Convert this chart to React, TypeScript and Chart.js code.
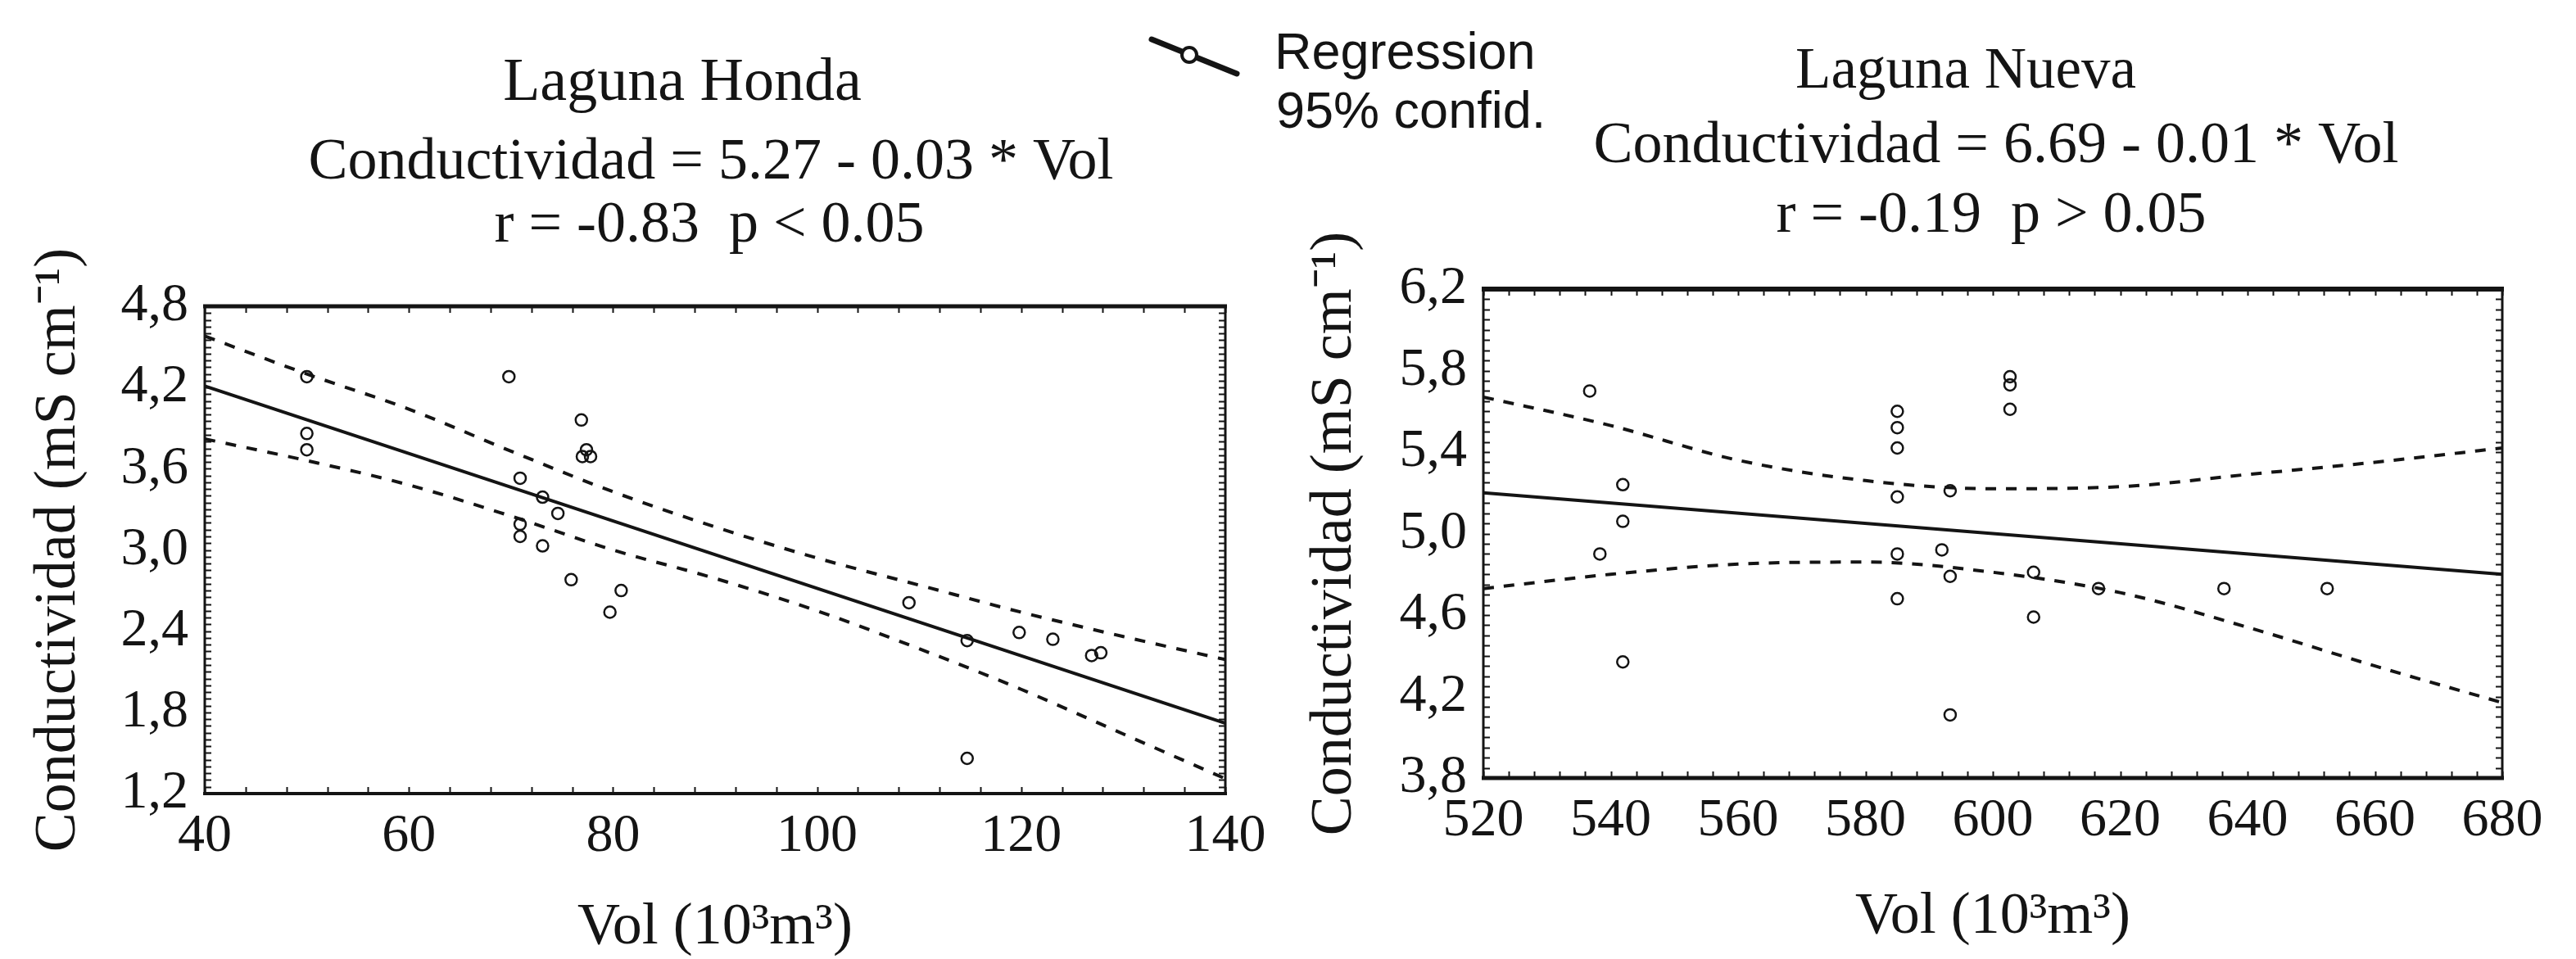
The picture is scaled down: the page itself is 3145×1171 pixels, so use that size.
import { useEffect, useRef } from "react";
import { Chart, registerables } from "chart.js";

Chart.register(...registerables);

const PAGE_W = 3145;
const PAGE_H = 1171;
const INK = "#141414";
const SERIF = '"Liberation Serif", "Times New Roman", serif';
const SANS = '"Liberation Sans", Arial, sans-serif';

// ---- Laguna Honda: conductivity vs. volume ----
const hondaVol = [50.0, 50.0, 50.0, 69.8, 76.9, 77.0, 77.8, 77.4, 70.9, 73.1, 74.6, 70.9, 70.9, 73.1, 75.9, 80.8, 79.7, 109.0, 114.7, 119.8, 123.1, 126.9, 127.8, 114.7];
const hondaCond = [4.28, 3.86, 3.74, 4.28, 3.96, 3.69, 3.69, 3.74, 3.53, 3.39, 3.27, 3.19, 3.10, 3.03, 2.78, 2.70, 2.54, 2.61, 2.33, 2.39, 2.34, 2.22, 2.24, 1.46];
const hondaFitVol = [40, 140];
const hondaFitCond = [4.21, 1.72];
const hondaBandVol = [40, 50, 60, 70, 80, 90, 100, 110, 120, 130, 140];
const hondaUpper = [4.58, 4.30, 4.04, 3.73, 3.43, 3.17, 2.94, 2.74, 2.54, 2.36, 2.19];
const hondaLower = [3.82, 3.66, 3.48, 3.25, 3.00, 2.79, 2.55, 2.27, 1.97, 1.64, 1.31];
const hondaXTicks = [40, 60, 80, 100, 120, 140];
const hondaYTicks = [1.2, 1.8, 2.4, 3.0, 3.6, 4.2, 4.8];

// ---- Laguna Nueva: conductivity vs. volume ----
const nuevaVol = [536.7, 541.9, 541.9, 538.3, 541.9, 585.0, 585.0, 585.0, 585.0, 585.0, 585.0, 592.0, 593.3, 593.3, 593.3, 602.7, 602.7, 602.7, 606.4, 606.4, 616.6, 636.3, 652.5];
const nuevaCond = [5.70, 5.24, 5.06, 4.90, 4.37, 5.60, 5.52, 5.42, 5.18, 4.90, 4.68, 4.92, 5.21, 4.79, 4.11, 5.77, 5.73, 5.61, 4.81, 4.59, 4.73, 4.73, 4.73];
const nuevaFitVol = [520, 680];
const nuevaFitCond = [5.20, 4.80];
const nuevaBandVol = [520, 540, 560, 580, 600, 620, 640, 660, 680];
const nuevaUpper = [5.67, 5.53, 5.36, 5.26, 5.22, 5.23, 5.29, 5.35, 5.42];
const nuevaLower = [4.73, 4.80, 4.85, 4.86, 4.81, 4.71, 4.54, 4.35, 4.17];
const nuevaXTicks = [520, 540, 560, 580, 600, 620, 640, 660, 680];
const nuevaYTicks = [3.8, 4.2, 4.6, 5.0, 5.4, 5.8, 6.2];

// ---- Text ----
const hondaTitle = "Laguna Honda";
const hondaEquation = "Conductividad = 5.27 - 0.03 * Vol";
const hondaStats = "r = -0.83  p < 0.05";
const nuevaTitle = "Laguna Nueva";
const nuevaEquation = "Conductividad = 6.69 - 0.01 * Vol";
const nuevaStats = "r = -0.19  p > 0.05";
const yAxisTitle = "Conductividad (mS cm\u207B\u00B9)";
const xAxisTitle = "Vol (10\u00B3m\u00B3)";
const legendFit = "Regression";
const legendBand = "95% confid.";

type TextItem = { text: string; x: number; y: number; font: string; align?: CanvasTextAlign };

type PanelSpec = {
  vol: number[];
  cond: number[];
  fitVol: number[];
  fitCond: number[];
  bandVol: number[];
  upper: number[];
  lower: number[];
  xTicks: number[];
  yTicks: number[];
  area: { left: number; top: number; right: number; bottom: number };
  yAxisLeft: number;
  yTitlePad: number;
  xTitlePad: number;
  xMinor: number;
  yMinor: number;
  frame: { top: number; bottom: number; left: number; right: number };
  dash: number[];
  texts: TextItem[];
  legend: boolean;
};

const toPoints = (xs: number[], ys: number[]) => xs.map((x, i) => ({ x, y: ys[i] }));
const commaLabel = (v: number) => v.toFixed(1).replace(".", ",");

// Inward minor ticks on all four sides plus the plot frame
function framePlugin(spec: PanelSpec) {
  return {
    id: "frameTicks",
    afterDatasetsDraw(chart: any) {
      const { ctx, chartArea: a, scales } = chart;
      const xs = scales.x;
      const ys = scales.y;
      const len = 8;
      ctx.save();
      ctx.strokeStyle = INK;
      ctx.lineWidth = 2;
      ctx.beginPath();
      const nx = Math.round((xs.max - xs.min) / spec.xMinor);
      for (let i = 0; i <= nx; i++) {
        const px = Math.round(xs.getPixelForValue(xs.min + i * spec.xMinor)) + 0.5;
        ctx.moveTo(px, a.bottom);
        ctx.lineTo(px, a.bottom - len);
        ctx.moveTo(px, a.top);
        ctx.lineTo(px, a.top + len);
      }
      const ny = Math.round((ys.max - ys.min) / spec.yMinor);
      for (let i = 0; i <= ny; i++) {
        const py = Math.round(ys.getPixelForValue(ys.min + i * spec.yMinor)) + 0.5;
        ctx.moveTo(a.left, py);
        ctx.lineTo(a.left + len, py);
        ctx.moveTo(a.right, py);
        ctx.lineTo(a.right - len, py);
      }
      ctx.stroke();

      const f = spec.frame;
      const side = (w: number, x1: number, y1: number, x2: number, y2: number) => {
        ctx.lineWidth = w;
        ctx.beginPath();
        ctx.moveTo(x1, y1);
        ctx.lineTo(x2, y2);
        ctx.stroke();
      };
      side(f.top, a.left - 2, a.top, a.right + 2, a.top);
      side(f.bottom, a.left - 2, a.bottom, a.right + 2, a.bottom);
      side(f.left, a.left, a.top, a.left, a.bottom);
      side(f.right, a.right, a.top, a.right, a.bottom);
      ctx.restore();
    },
  };
}

// Headings, equation lines and the shared legend
function textPlugin(spec: PanelSpec) {
  return {
    id: "pageText",
    afterDraw(chart: any) {
      const ctx = chart.ctx as CanvasRenderingContext2D;
      ctx.save();
      ctx.fillStyle = INK;
      ctx.textBaseline = "alphabetic";
      for (const t of spec.texts) {
        ctx.font = t.font;
        ctx.textAlign = t.align || "center";
        ctx.fillText(t.text, t.x, t.y);
      }
      if (spec.legend) {
        ctx.strokeStyle = INK;
        ctx.lineCap = "round";
        ctx.lineWidth = 7;
        ctx.beginPath();
        ctx.moveTo(1406, 48);
        ctx.lineTo(1510, 90);
        ctx.stroke();
        ctx.beginPath();
        ctx.arc(1452, 67, 9, 0, Math.PI * 2);
        ctx.fillStyle = "#ffffff";
        ctx.fill();
        ctx.lineWidth = 4;
        ctx.stroke();
        ctx.fillStyle = INK;
        ctx.font = `63px ${SANS}`;
        ctx.textAlign = "left";
        ctx.fillText(legendFit, 1556, 84);
        ctx.fillText(legendBand, 1558, 156);
      }
      ctx.restore();
    },
  };
}

function buildConfig(spec: PanelSpec): any {
  const a = spec.area;
  const tickFont = { family: SERIF, size: 66 };
  const titleFont = { family: SERIF, size: 72, lineHeight: 1 };
  return {
    type: "scatter",
    data: {
      datasets: [
        {
          label: "Conductividad",
          data: toPoints(spec.vol, spec.cond),
          showLine: false,
          pointRadius: 7,
          pointBorderWidth: 2.5,
          pointBorderColor: INK,
          pointBackgroundColor: "rgba(255,255,255,0)",
        },
        {
          label: legendFit,
          data: toPoints(spec.fitVol, spec.fitCond),
          showLine: true,
          borderColor: INK,
          borderWidth: 4,
          pointRadius: 0,
        },
        {
          label: legendBand,
          data: toPoints(spec.bandVol, spec.upper),
          showLine: true,
          borderColor: INK,
          borderWidth: 4,
          borderDash: spec.dash,
          cubicInterpolationMode: "monotone",
          pointRadius: 0,
        },
        {
          label: legendBand,
          data: toPoints(spec.bandVol, spec.lower),
          showLine: true,
          borderColor: INK,
          borderWidth: 4,
          borderDash: spec.dash,
          cubicInterpolationMode: "monotone",
          pointRadius: 0,
        },
      ],
    },
    options: {
      responsive: false,
      animation: false,
      devicePixelRatio: 1,
      events: [],
      layout: {
        padding: { left: spec.yAxisLeft, top: a.top, right: PAGE_W - a.right, bottom: 0 },
      },
      plugins: {
        legend: { display: false },
        tooltip: { enabled: false },
        title: { display: false },
      },
      scales: {
        x: {
          type: "linear",
          position: "bottom",
          min: spec.xTicks[0],
          max: spec.xTicks[spec.xTicks.length - 1],
          grid: { display: false, drawTicks: false },
          border: { display: false },
          ticks: {
            color: INK,
            font: tickFont,
            padding: 13,
            maxRotation: 0,
            autoSkip: false,
            callback: (v: number) => String(v),
          },
          afterBuildTicks: (s: any) => {
            s.ticks = spec.xTicks.map((v) => ({ value: v }));
          },
          afterFit: (s: any) => {
            s.height = PAGE_H - a.bottom;
          },
          title: {
            display: true,
            text: xAxisTitle,
            color: INK,
            font: titleFont,
            padding: { top: 0, bottom: spec.xTitlePad },
          },
        },
        y: {
          type: "linear",
          position: "left",
          min: spec.yTicks[0],
          max: spec.yTicks[spec.yTicks.length - 1],
          grid: { display: false, drawTicks: false },
          border: { display: false },
          ticks: {
            color: INK,
            font: tickFont,
            padding: 20,
            autoSkip: false,
            callback: (v: number) => commaLabel(v),
          },
          afterBuildTicks: (s: any) => {
            s.ticks = spec.yTicks.map((v) => ({ value: v }));
          },
          afterFit: (s: any) => {
            s.width = a.left - spec.yAxisLeft;
          },
          title: {
            display: true,
            text: yAxisTitle,
            color: INK,
            font: titleFont,
            padding: { top: spec.yTitlePad, bottom: 0 },
          },
        },
      },
    },
    plugins: [framePlugin(spec), textPlugin(spec)],
  };
}

const hondaSpec: PanelSpec = {
  vol: hondaVol,
  cond: hondaCond,
  fitVol: hondaFitVol,
  fitCond: hondaFitCond,
  bandVol: hondaBandVol,
  upper: hondaUpper,
  lower: hondaLower,
  xTicks: hondaXTicks,
  yTicks: hondaYTicks,
  area: { left: 250, top: 374, right: 1496, bottom: 969 },
  yAxisLeft: 0,
  yTitlePad: 36,
  xTitlePad: 2,
  xMinor: 4,
  yMinor: 0.05,
  frame: { top: 5, bottom: 4, left: 3, right: 3 },
  dash: [13, 13],
  texts: [
    { text: hondaTitle, x: 833, y: 122, font: `74px ${SERIF}` },
    { text: hondaEquation, x: 868, y: 218, font: `72px ${SERIF}` },
    { text: hondaStats, x: 866, y: 295, font: `72px ${SERIF}` },
  ],
  legend: true,
};

const nuevaSpec: PanelSpec = {
  vol: nuevaVol,
  cond: nuevaCond,
  fitVol: nuevaFitVol,
  fitCond: nuevaFitCond,
  bandVol: nuevaBandVol,
  upper: nuevaUpper,
  lower: nuevaLower,
  xTicks: nuevaXTicks,
  yTicks: nuevaYTicks,
  area: { left: 1811, top: 353, right: 3055, bottom: 950 },
  yAxisLeft: 1580,
  yTitlePad: 14,
  xTitlePad: 15,
  xMinor: 4,
  yMinor: 0.05,
  frame: { top: 6, bottom: 5, left: 3, right: 3 },
  dash: [13, 12],
  texts: [
    { text: nuevaTitle, x: 2400, y: 107, font: `71px ${SERIF}` },
    { text: nuevaEquation, x: 2437, y: 198, font: `72px ${SERIF}` },
    { text: nuevaStats, x: 2431, y: 283, font: `72px ${SERIF}` },
  ],
  legend: false,
};

function Panel({ spec }: { spec: PanelSpec }) {
  const ref = useRef<HTMLCanvasElement | null>(null);
  useEffect(() => {
    if (!ref.current) return;
    const chart = new Chart(ref.current, buildConfig(spec));
    return () => chart.destroy();
  }, [spec]);
  return (
    <canvas
      ref={ref}
      width={PAGE_W}
      height={PAGE_H}
      style={{ position: "absolute", left: 0, top: 0, width: PAGE_W, height: PAGE_H }}
    />
  );
}

export default function App() {
  return (
    <div
      style={{
        position: "fixed",
        left: 0,
        top: 0,
        width: PAGE_W,
        height: PAGE_H,
        background: "#ffffff",
        overflow: "hidden",
      }}
    >
      <Panel spec={hondaSpec} />
      <Panel spec={nuevaSpec} />
    </div>
  );
}
